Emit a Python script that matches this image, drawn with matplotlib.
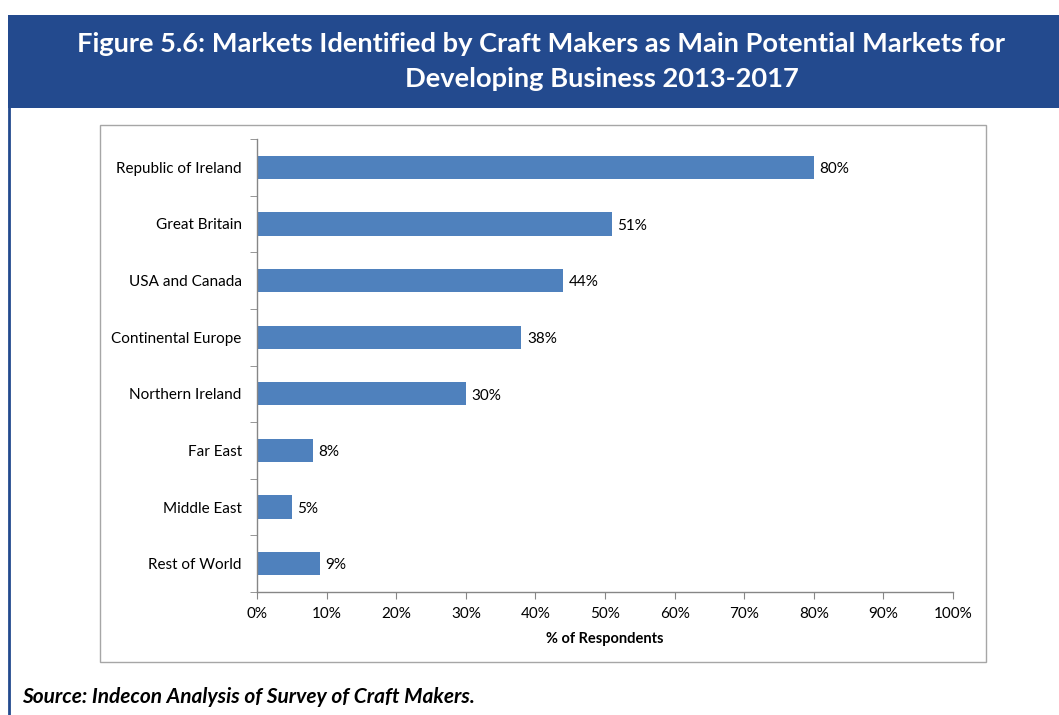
import matplotlib
matplotlib.use("Agg")
import matplotlib.pyplot as plt
from matplotlib.patches import Rectangle
from matplotlib.lines import Line2D
from matplotlib.ticker import FuncFormatter

categories = ["Republic of Ireland", "Great Britain", "USA and Canada",
              "Continental Europe", "Northern Ireland", "Far East",
              "Middle East", "Rest of World"]
values = [80, 51, 44, 38, 30, 8, 5, 9]
x_ticks = [0, 10, 20, 30, 40, 50, 60, 70, 80, 90, 100]

title_line1 = "Figure 5.6: Markets Identified by Craft Makers as Main Potential Markets for"
title_line2 = "Developing Business 2013-2017"
source_text = "Source: Indecon Analysis of Survey of Craft Makers."

BLUE = "#234A8E"
BAR = "#4F81BD"
FONT = ["Lato", "DejaVu Sans"]
plt.rcParams["font.family"] = FONT

W, H = 1059, 715
fig = plt.figure(figsize=(W / 100, H / 100), dpi=100)

def fx(px):
    return px / W

def fy(py):
    return 1 - py / H

# Title banner and left border
fig.patches.append(Rectangle((fx(8), fy(108)), fx(W - 8), fy(15) - fy(108),
                             transform=fig.transFigure, facecolor=BLUE,
                             edgecolor="none", zorder=0))
fig.lines.append(Line2D([fx(9), fx(9)], [fy(108), 0], transform=fig.transFigure,
                        color=BLUE, linewidth=2, zorder=0))
fig.text(fx(541), fy(44), title_line1, color="white", fontsize=19.6,
         fontweight="bold", ha="center", va="center")
fig.text(fx(602), fy(79), title_line2, color="white", fontsize=19.6,
         fontweight="bold", ha="center", va="center")

# Chart area frame
fig.patches.append(Rectangle((fx(100), fy(662)), fx(986) - fx(100), fy(125) - fy(662),
                             transform=fig.transFigure, facecolor="white",
                             edgecolor="#A6A6A6", linewidth=1.0, zorder=0))

ax = fig.add_axes([fx(257), fy(592), fx(953) - fx(257), fy(139) - fy(592)])
ax.set_zorder(2)
ax.set_facecolor("none")
pos = list(range(len(categories)))
ax.barh(pos, values, height=0.41, color=BAR, zorder=2)
for p, v in zip(pos, values):
    ax.text(v + 0.8, p + 0.03, f"{v}%", va="center", ha="left", fontsize=11, color="#000000")

ax.set_ylim(len(categories) - 0.5, -0.5)
ax.set_yticks(pos)
ax.set_yticklabels(categories, fontsize=11)
ax.set_yticks([p - 0.5 for p in pos] + [len(categories) - 0.5], minor=True)
ax.tick_params(axis="y", which="major", length=0, pad=11)
ax.tick_params(axis="y", which="minor", length=5, color="#868686", direction="out")

ax.set_xlim(0, 100)
ax.set_xticks(x_ticks)
ax.xaxis.set_major_formatter(FuncFormatter(lambda v, _: f"{int(v)}%"))
ax.tick_params(axis="x", length=5, color="#868686", direction="out", labelsize=11, pad=6)
ax.set_xlabel("% of Respondents", fontsize=10.5, fontweight="bold", labelpad=8)

for s in ["top", "right"]:
    ax.spines[s].set_visible(False)
for s in ["left", "bottom"]:
    ax.spines[s].set_color("#868686")
    ax.spines[s].set_linewidth(1.0)

fig.text(fx(22), fy(697), source_text, fontsize=15, fontweight="bold",
         fontstyle="italic", ha="left", va="center")

fig.savefig("out.png", dpi=100)
